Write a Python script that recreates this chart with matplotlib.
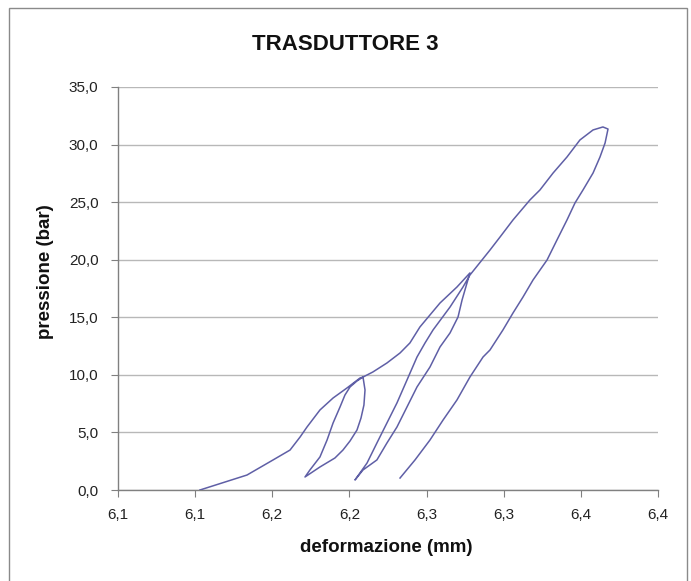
import numpy as np
import matplotlib.pyplot as plt
from matplotlib.patches import Rectangle

plt.rcParams['font.family'] = ['Liberation Sans', 'DejaVu Sans']

# ciclo 1: carico e scarico
carico1_x = [6.1031, 6.1336, 6.1505, 6.1615, 6.1680, 6.1725, 6.1809, 6.1894, 6.1984, 6.2069, 6.2088]
carico1_y = [0.00, 1.30, 2.61, 3.47, 4.60, 5.47, 6.95, 7.99, 8.86, 9.73, 9.81]
scarico1_x = [6.2101, 6.2094, 6.2075, 6.2049, 6.2004, 6.1958, 6.1906, 6.1809, 6.1712]
scarico1_y = [8.69, 7.38, 6.25, 5.21, 4.26, 3.47, 2.78, 2.00, 1.13]

# ciclo 2
carico2_x = [6.1744, 6.1809, 6.1855, 6.1894, 6.1939, 6.1971, 6.2004, 6.2049, 6.2088,
             6.2152, 6.2243, 6.2328, 6.2392, 6.2457, 6.2587, 6.2697, 6.2781]
carico2_y = [1.74, 2.87, 4.34, 5.82, 7.21, 8.25, 8.95, 9.47, 9.81,
             10.25, 11.03, 11.90, 12.77, 14.16, 16.24, 17.63, 18.85]
scarico2_x = [6.2762, 6.2730, 6.2704, 6.2652, 6.2587, 6.2522, 6.2438, 6.2373, 6.2308,
              6.2243, 6.2178, 6.2088, 6.2036]
scarico2_y = [17.98, 16.50, 15.03, 13.64, 12.42, 10.68, 8.95, 7.21, 5.47,
              4.08, 2.61, 1.74, 0.87]

# ciclo 3
carico3_x = [6.2114, 6.2178, 6.2243, 6.2308, 6.2373, 6.2438, 6.2490, 6.2542, 6.2652,
             6.2736, 6.2781, 6.2911, 6.2976, 6.3060, 6.3170, 6.3235, 6.3320, 6.3410,
             6.3494, 6.3579, 6.3643, 6.3676]
carico3_y = [2.34, 4.08, 5.82, 7.56, 9.55, 11.55, 12.77, 13.90, 15.89,
             17.63, 18.67, 20.84, 21.97, 23.45, 25.19, 26.06, 27.53, 28.92,
             30.40, 31.27, 31.53, 31.35]
scarico3_x = [6.3657, 6.3624, 6.3579, 6.3514, 6.3462, 6.3410, 6.3345, 6.3281, 6.3190,
              6.3125, 6.3060, 6.2995, 6.2911, 6.2866, 6.2781, 6.2697, 6.2607, 6.2522,
              6.2425, 6.2328]
scarico3_y = [30.14, 28.92, 27.53, 26.06, 24.93, 23.45, 21.71, 19.98, 18.24,
              16.76, 15.37, 13.90, 12.16, 11.55, 9.81, 7.82, 6.08, 4.34,
              2.61, 1.04]

x_ticks = [6.05, 6.10, 6.15, 6.20, 6.25, 6.30, 6.35, 6.40]
x_labels = ['6,1', '6,1', '6,2', '6,2', '6,3', '6,3', '6,4', '6,4']
y_ticks = [0, 5, 10, 15, 20, 25, 30, 35]
y_labels = [('%.1f' % v).replace('.', ',') for v in y_ticks]

x = np.concatenate([carico1_x, scarico1_x, carico2_x, scarico2_x, carico3_x, scarico3_x])
y = np.concatenate([carico1_y, scarico1_y, carico2_y, scarico2_y, carico3_y, scarico3_y])

W, H = 691, 581
fig = plt.figure(figsize=(W / 100, H / 100), dpi=100)
ax = fig.add_axes([118 / W, 1 - 490 / H, 540 / W, 403 / H])

# cornice del grafico
fig.patches.append(Rectangle((9 / W, -0.05), 678 / W, 1 - 8 / H + 0.05,
                             transform=fig.transFigure, fill=False,
                             edgecolor='#8a8a8a', linewidth=1.0))

ax.plot(x, y, color='#5f5fa6', linewidth=1.1, zorder=3)

ax.set_xlim(6.05, 6.40)
ax.set_ylim(0, 35)
ax.set_xticks(x_ticks)
ax.set_xticklabels(x_labels)
ax.set_yticks(y_ticks)
ax.set_yticklabels(y_labels)

ax.grid(True, axis='y', color='#b8b8b8', linewidth=1.0)
ax.grid(False, axis='x')
ax.set_axisbelow(True)
for s in ['top', 'right']:
    ax.spines[s].set_visible(False)
for s in ['left', 'bottom']:
    ax.spines[s].set_color('#808080')
    ax.spines[s].set_linewidth(1.0)
ax.tick_params(axis='both', direction='out', length=5, color='#808080',
               labelsize=11, labelcolor='#222222')
ax.tick_params(axis='x', pad=8)
ax.tick_params(axis='y', pad=9)

fig.text(345 / W, 1 - 45 / H, 'TRASDUTTORE 3', ha='center', va='center',
         fontsize=16, fontweight='bold', color='#111111')
fig.text(46 / W, 1 - 272 / H, 'pressione (bar)', ha='center', va='center',
         rotation=90, fontsize=13.5, fontweight='bold', color='#111111')
fig.text(386 / W, 1 - 548 / H, 'deformazione (mm)', ha='center', va='center',
         fontsize=13.5, fontweight='bold', color='#111111')

fig.savefig('out.png', dpi=100, facecolor='white')
